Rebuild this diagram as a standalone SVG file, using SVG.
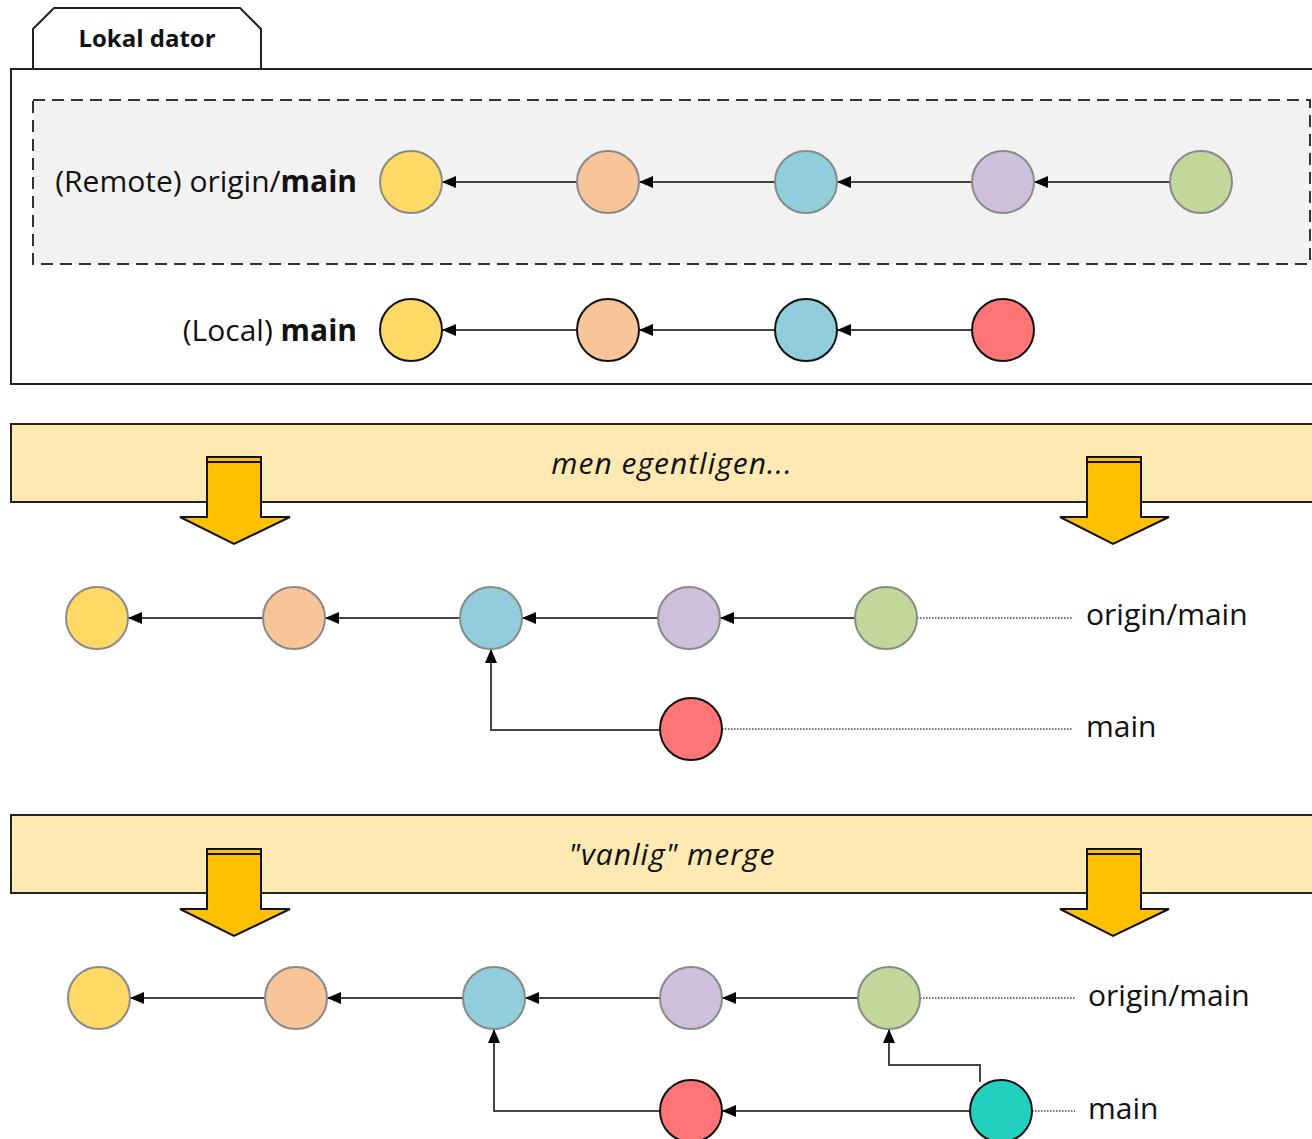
<svg xmlns="http://www.w3.org/2000/svg" width="1312" height="1139" viewBox="0 0 1312 1139">
<defs>
<style>
.t{font-family:"Open Sans","Liberation Sans",sans-serif;fill:#111}
.c{stroke:#8a8a8a;stroke-width:2}
.cl{stroke:#111;stroke-width:2}
.e{fill:none;stroke:#444;stroke-width:2}
.d{fill:none;stroke:#444;stroke-width:1.3;stroke-dasharray:1.5 1.5}
.y{fill:#ffd966}.p{fill:#f8c49a}.b{fill:#92cddc}.v{fill:#ccc0da}.g{fill:#c4d79b}.r{fill:#ff7474}.q{fill:#22d0bf}
.ban{fill:#fee9b2;stroke:#222;stroke-width:2}
.arr{fill:#ffc000;stroke:#111;stroke-width:2;stroke-linejoin:miter}
.lab{font-size:30px}
.it{font-size:30px;font-style:italic;letter-spacing:1px}
</style>
<marker id="a" viewBox="0 0 14 12" refX="14" refY="6" markerWidth="14" markerHeight="12" markerUnits="userSpaceOnUse" orient="auto">
<path d="M0,0L14,6L0,12z" fill="#000"/>
</marker>
</defs>

<g id="lokal-dator">
<path d="M33,69V29L54,8H240L261,29V69" fill="#fff" stroke="#222" stroke-width="2"/>
<text class="t" x="147" y="47" font-size="24" font-weight="bold" text-anchor="middle">Lokal dator</text>
<rect x="11" y="69" width="1310" height="315" fill="none" stroke="#222" stroke-width="2"/>
<rect x="33" y="100" width="1277" height="164" fill="#f2f2f2" stroke="#333" stroke-width="2" stroke-dasharray="12 7"/>
</g>

<g id="labels-top">
<text class="t lab" x="357" y="192" text-anchor="end">(Remote) origin/<tspan font-weight="bold">main</tspan></text>
<text class="t lab" x="357" y="341" text-anchor="end">(Local) <tspan font-weight="bold">main</tspan></text>
</g>

<g id="connectors">
<line class="e" x1="577" y1="182" x2="442" y2="182" marker-end="url(#a)"/>
<line class="e" x1="775" y1="182" x2="639" y2="182" marker-end="url(#a)"/>
<line class="e" x1="972" y1="182" x2="837" y2="182" marker-end="url(#a)"/>
<line class="e" x1="1170" y1="182" x2="1034" y2="182" marker-end="url(#a)"/>
<line class="e" x1="577" y1="330" x2="442" y2="330" marker-end="url(#a)"/>
<line class="e" x1="775" y1="330" x2="639" y2="330" marker-end="url(#a)"/>
<line class="e" x1="972" y1="330" x2="837" y2="330" marker-end="url(#a)"/>

<line class="e" x1="263" y1="618" x2="128" y2="618" marker-end="url(#a)"/>
<line class="e" x1="460" y1="618" x2="325" y2="618" marker-end="url(#a)"/>
<line class="e" x1="658" y1="618" x2="522" y2="618" marker-end="url(#a)"/>
<line class="e" x1="855" y1="618" x2="720" y2="618" marker-end="url(#a)"/>
<path class="e" d="M660,730H491V649" marker-end="url(#a)"/>
<line class="d" x1="917" y1="618" x2="1073" y2="618"/>
<line class="d" x1="722" y1="729" x2="1073" y2="729"/>

<line class="e" x1="265" y1="998" x2="130" y2="998" marker-end="url(#a)"/>
<line class="e" x1="463" y1="998" x2="327" y2="998" marker-end="url(#a)"/>
<line class="e" x1="660" y1="998" x2="525" y2="998" marker-end="url(#a)"/>
<line class="e" x1="858" y1="998" x2="722" y2="998" marker-end="url(#a)"/>
<path class="e" d="M660,1111H494V1029" marker-end="url(#a)"/>
<line class="e" x1="970" y1="1111" x2="722" y2="1111" marker-end="url(#a)"/>
<path class="e" d="M980,1082V1065H889V1029" marker-end="url(#a)"/>
<line class="d" x1="920" y1="998" x2="1075" y2="998"/>
<line class="d" x1="1032" y1="1111" x2="1075" y2="1111"/>
</g>

<g id="remote-row">
<circle class="c y" cx="411" cy="182" r="31"/>
<circle class="c p" cx="608" cy="182" r="31"/>
<circle class="c b" cx="806" cy="182" r="31"/>
<circle class="c v" cx="1003" cy="182" r="31"/>
<circle class="c g" cx="1201" cy="182" r="31"/>
</g>
<g id="local-row">
<circle class="cl y" cx="411" cy="330" r="31"/>
<circle class="cl p" cx="608" cy="330" r="31"/>
<circle class="cl b" cx="806" cy="330" r="31"/>
<circle class="cl r" cx="1003" cy="330" r="31"/>
</g>

<g id="banner-1">
<rect class="ban" x="11" y="424" width="1310" height="78"/>
<text class="t it" x="672" y="474" text-anchor="middle">men egentligen...</text>
<path class="arr" d="M207,457H261V517H290L234,544L180,517H207Z"/>
<line x1="207" y1="462" x2="261" y2="462" stroke="#111" stroke-width="2"/>
<path class="arr" d="M1087,457H1141V517H1169L1113,544L1060,517H1087Z"/>
<line x1="1087" y1="462" x2="1141" y2="462" stroke="#111" stroke-width="2"/>
</g>

<g id="state-2">
<circle class="c y" cx="97" cy="618" r="31"/>
<circle class="c p" cx="294" cy="618" r="31"/>
<circle class="c b" cx="491" cy="618" r="31"/>
<circle class="c v" cx="689" cy="618" r="31"/>
<circle class="c g" cx="886" cy="618" r="31"/>
<circle class="cl r" cx="691" cy="729" r="31"/>
<text class="t lab" x="1086" y="625">origin/main</text>
<text class="t lab" x="1086" y="737">main</text>
</g>

<g id="banner-2">
<rect class="ban" x="11" y="815" width="1310" height="78"/>
<text class="t it" x="672" y="865" text-anchor="middle">"vanlig" merge</text>
<path class="arr" d="M207,849H261V909H290L234,936L180,909H207Z"/>
<line x1="207" y1="854" x2="261" y2="854" stroke="#111" stroke-width="2"/>
<path class="arr" d="M1087,849H1141V909H1169L1113,936L1060,909H1087Z"/>
<line x1="1087" y1="854" x2="1141" y2="854" stroke="#111" stroke-width="2"/>
</g>

<g id="state-3">
<circle class="c y" cx="99" cy="998" r="31"/>
<circle class="c p" cx="296" cy="998" r="31"/>
<circle class="c b" cx="494" cy="998" r="31"/>
<circle class="c v" cx="691" cy="998" r="31"/>
<circle class="c g" cx="889" cy="998" r="31"/>
<circle class="cl r" cx="691" cy="1111" r="31"/>
<circle class="cl q" cx="1001" cy="1111" r="31"/>
<text class="t lab" x="1088" y="1006">origin/main</text>
<text class="t lab" x="1088" y="1119">main</text>
</g>
</svg>
